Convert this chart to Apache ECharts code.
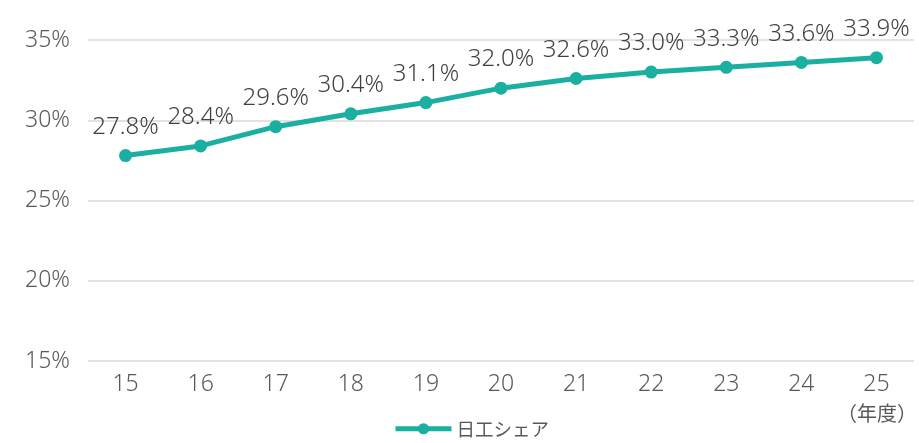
<!DOCTYPE html>
<html>
<head>
<meta charset="utf-8">
<script src="https://cdn.jsdelivr.net/npm/echarts@6/dist/echarts.min.js"></script>
<style>
  html, body { margin: 0; padding: 0; background: #fff; }
  #chart { width: 919px; height: 443px; }
</style>
</head>
<body>
<div id="chart"></div>
<script>
// Fiscal years (two-digit) and share values in percent
const years = ['15', '16', '17', '18', '19', '20', '21', '22', '23', '24', '25'];
const shareValues = [27.8, 28.4, 29.6, 30.4, 31.1, 32.0, 32.6, 33.0, 33.3, 33.6, 33.9];
const seriesName = '日工シェア';
const unitLabel = '（年度）';

const FONT = '"Noto Sans", "Noto Sans CJK JP", sans-serif';
const CJK_FONT = '"Noto Sans CJK JP", sans-serif';
const TEAL = '#1aafa0';

const chart = echarts.init(document.getElementById('chart'));
chart.setOption({
  animation: false,
  textStyle: { fontFamily: FONT },
  grid: { left: 88, right: 5, top: 40, bottom: 82, containLabel: false },
  legend: {
    bottom: 0,
    left: 388,
    itemWidth: 56,
    itemHeight: 14,
    itemGap: 3,
    lineStyle: { width: 5 },
    textStyle: { fontSize: 18.5, color: '#595959', fontFamily: CJK_FONT },
    data: [seriesName]
  },
  xAxis: {
    type: 'category',
    data: years,
    boundaryGap: true,
    axisLine: { show: false },
    axisTick: { show: false },
    axisLabel: { fontSize: 23, color: '#595959', margin: 12, fontFamily: FONT, fontWeight: 300 }
  },
  yAxis: {
    type: 'value',
    min: 15,
    max: 35,
    interval: 5,
    axisLine: { show: false },
    axisTick: { show: false },
    splitLine: { lineStyle: { color: '#d9d9d9', width: 1.5 } },
    axisLabel: {
      fontSize: 23,
      color: '#595959',
      margin: 18,
      fontFamily: FONT,
      fontWeight: 300,
      formatter: v => v + '%'
    }
  },
  series: [{
    name: seriesName,
    type: 'line',
    data: shareValues,
    symbol: 'circle',
    symbolSize: 13,
    lineStyle: { color: TEAL, width: 5 },
    itemStyle: { color: TEAL },
    label: {
      show: true,
      position: 'top',
      distance: 10,
      fontSize: 24,
      color: '#404040',
      fontFamily: FONT,
      fontWeight: 300,
      formatter: p => p.value.toFixed(1) + '%'
    }
  }],
  graphic: [{
    type: 'text',
    x: 877,
    y: 413,
    style: {
      text: unitLabel,
      fontSize: 20,
      fill: '#595959',
      fontFamily: CJK_FONT,
      align: 'center',
      verticalAlign: 'middle'
    }
  }]
});
</script>
</body>
</html>
